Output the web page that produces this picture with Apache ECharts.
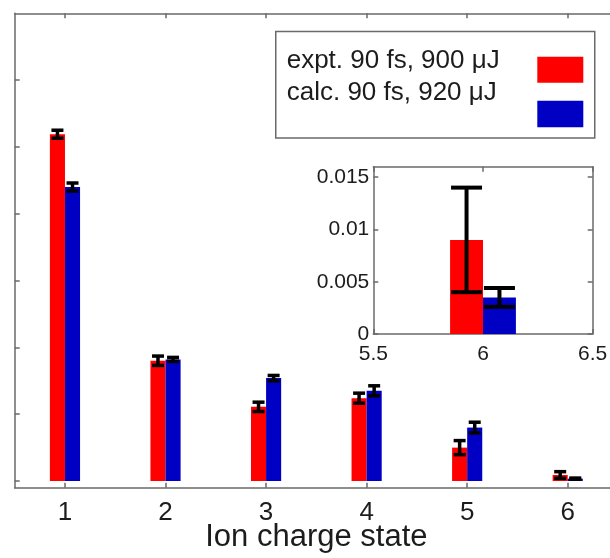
<!DOCTYPE html>
<html><head><meta charset="utf-8">
<script src="https://cdn.jsdelivr.net/npm/echarts@6/dist/echarts.min.js"></script>
<style>html,body{margin:0;padding:0;background:#fff}#c{width:610px;height:558px}</style>
</head><body><div id="c"></div>
<script>
// ---- data ----
const charges = [1, 2, 3, 4, 5, 6];
const exptValues = [0.519, 0.180, 0.111, 0.124, 0.050, 0.009];
const exptErrors = [0.006, 0.007, 0.007, 0.0075, 0.0105, 0.005];
const calcValues = [0.440, 0.182, 0.154, 0.135, 0.080, 0.0035];
const calcErrors = [0.006, 0.003, 0.004, 0.0075, 0.008, 0.0009];

const insetCharges = [6];
const insetExptValues = [0.009];
const insetExptErrors = [0.005];
const insetCalcValues = [0.0035];
const insetCalcErrors = [0.0009];

const mainXTicks = [1, 2, 3, 4, 5, 6];
const mainYTicks = [0, 0.1, 0.2, 0.3, 0.4, 0.5, 0.6];
const insetXTicks = [5.5, 6, 6.5];
const insetYTicks = [0, 0.005, 0.01, 0.015];

const seriesNames = ['expt. 90 fs, 900 μJ', 'calc. 90 fs, 920 μJ'];
const xTitle = 'Ion charge state';

// ---- style ----
const RED = '#ff0000', BLUE = '#0000c4', AXIS = '#6a6a6a', TXT = '#1c1c1c';
const FONT = '"Liberation Sans", Arial, Helvetica, sans-serif';
const BAR_W = 0.15;

function rows(xs, vs, es) { return xs.map((x, i) => [x, vs[i], es[i]]); }

function barRenderer(side) {
  return function (params, api) {
    const x = api.value(0), v = api.value(1);
    const x0 = side < 0 ? x - BAR_W : x, x1 = side < 0 ? x : x + BAR_W;
    const p0 = api.coord([x0, v]), p1 = api.coord([x1, 0]);
    return { type: 'rect', shape: { x: p0[0], y: p0[1], width: p1[0] - p0[0], height: p1[1] - p0[1] },
      style: { fill: api.visual('color') } };
  };
}
function errRenderer(side, capHalf, lw) {
  return function (params, api) {
    const x = api.value(0) + side * BAR_W / 2, v = api.value(1), e = api.value(2);
    const t = api.coord([x, v + e]), b = api.coord([x, v - e]);
    const st = { stroke: '#000', lineWidth: lw };
    return { type: 'group', children: [
      { type: 'line', shape: { x1: t[0], y1: t[1], x2: b[0], y2: b[1] }, style: st },
      { type: 'line', shape: { x1: t[0] - capHalf, y1: t[1], x2: t[0] + capHalf, y2: t[1] }, style: st },
      { type: 'line', shape: { x1: b[0] - capHalf, y1: b[1], x2: b[0] + capHalf, y2: b[1] }, style: st }
    ] };
  };
}

const lineStyle = { color: AXIS, width: 1.5 };
function xAx(grid, pos, min, max, ticks, label, fs, margin) {
  return { gridIndex: grid, type: 'value', position: pos, min: min, max: max,
    axisLine: { show: true, onZero: false, lineStyle: lineStyle },
    axisTick: { show: true, inside: true, length: 5, customValues: ticks, lineStyle: lineStyle },
    axisLabel: label ? { show: true, customValues: ticks, fontSize: fs, color: TXT, fontFamily: FONT, margin: margin } : { show: false },
    splitLine: { show: false } };
}
function yAx(grid, pos, min, max, ticks, label, fs) {
  return { gridIndex: grid, type: 'value', position: pos, min: min, max: max,
    axisLine: { show: true, onZero: false, lineStyle: lineStyle },
    axisTick: { show: true, inside: true, length: 5, customValues: ticks, lineStyle: lineStyle },
    axisLabel: label ? { show: true, customValues: ticks, fontSize: fs, color: TXT, fontFamily: FONT, margin: 4 } : { show: false },
    splitLine: { show: false } };
}

const mainX = xAx(0, 'bottom', 0.5, 6.5, mainXTicks, true, 26, 12);
mainX.name = xTitle; mainX.nameLocation = 'middle'; mainX.nameGap = 34;
mainX.nameMoveOverlap = false;
mainX.nameTextStyle = { fontSize: 31, color: TXT, fontFamily: FONT };

const option = {
  backgroundColor: '#fff',
  animation: false,
  grid: [
    { left: 14.7, top: 13.3, width: 603.3, height: 474.4, show: false, containLabel: false, outerBoundsMode: 'none' },
    { left: 373.3, top: 166.7, width: 219.4, height: 167.3, show: true, backgroundColor: '#fff', borderWidth: 0,
      containLabel: false, outerBoundsMode: 'none' }
  ],
  xAxis: [
    mainX,
    xAx(0, 'top', 0.5, 6.5, mainXTicks, false),
    xAx(1, 'bottom', 5.5, 6.5, insetXTicks, true, 21, 10),
    xAx(1, 'top', 5.5, 6.5, insetXTicks, false)
  ],
  yAxis: [
    yAx(0, 'left', -0.01, 0.7, mainYTicks, false),
    yAx(0, 'right', -0.01, 0.7, mainYTicks, false),
    yAx(1, 'left', 0, 0.016, insetYTicks, true, 21),
    yAx(1, 'right', 0, 0.016, insetYTicks, false)
  ],
  series: [
    { name: seriesNames[0], type: 'custom', xAxisIndex: 0, yAxisIndex: 0, itemStyle: { color: RED },
      renderItem: barRenderer(-1), data: rows(charges, exptValues, exptErrors), encode: { x: 0, y: 1 } },
    { name: seriesNames[1], type: 'custom', xAxisIndex: 0, yAxisIndex: 0, itemStyle: { color: BLUE },
      renderItem: barRenderer(1), data: rows(charges, calcValues, calcErrors), encode: { x: 0, y: 1 } },
    { type: 'custom', xAxisIndex: 0, yAxisIndex: 0, z: 3,
      renderItem: errRenderer(-1, 6, 3.5), data: rows(charges, exptValues, exptErrors), encode: { x: 0, y: 1 } },
    { type: 'custom', xAxisIndex: 0, yAxisIndex: 0, z: 3,
      renderItem: errRenderer(1, 6, 3.5), data: rows(charges, calcValues, calcErrors), encode: { x: 0, y: 1 } },
    { name: seriesNames[0], type: 'custom', xAxisIndex: 2, yAxisIndex: 2, itemStyle: { color: RED },
      renderItem: barRenderer(-1), data: rows(insetCharges, insetExptValues, insetExptErrors), encode: { x: 0, y: 1 } },
    { name: seriesNames[1], type: 'custom', xAxisIndex: 2, yAxisIndex: 2, itemStyle: { color: BLUE },
      renderItem: barRenderer(1), data: rows(insetCharges, insetCalcValues, insetCalcErrors), encode: { x: 0, y: 1 } },
    { type: 'custom', xAxisIndex: 2, yAxisIndex: 2, z: 3,
      renderItem: errRenderer(-1, 15.5, 4), data: rows(insetCharges, insetExptValues, insetExptErrors), encode: { x: 0, y: 1 } },
    { type: 'custom', xAxisIndex: 2, yAxisIndex: 2, z: 3,
      renderItem: errRenderer(1, 15.5, 4), data: rows(insetCharges, insetCalcValues, insetCalcErrors), encode: { x: 0, y: 1 } }
  ],
  graphic: [
    { type: 'rect', left: 275, top: 30.7, shape: { width: 319, height: 106.6 },
      style: { fill: '#fff', stroke: AXIS, lineWidth: 1.5 }, z: 10 },
    { type: 'text', x: 286.7, y: 60.7, z: 11,
      style: { text: seriesNames[0], fontSize: 26, fontFamily: FONT, fill: TXT, verticalAlign: 'middle' } },
    { type: 'text', x: 286.7, y: 93.3, z: 11,
      style: { text: seriesNames[1], fontSize: 26, fontFamily: FONT, fill: TXT, verticalAlign: 'middle' } },
    { type: 'rect', left: 537.3, top: 56.7, shape: { width: 46, height: 26 }, style: { fill: RED }, z: 11 },
    { type: 'rect', left: 537.3, top: 100.7, shape: { width: 46, height: 26.6 }, style: { fill: BLUE }, z: 11 }
  ]
};

const chart = echarts.init(document.getElementById('c'), null, { renderer: 'canvas' });
chart.setOption(option);
</script>
</body></html>
